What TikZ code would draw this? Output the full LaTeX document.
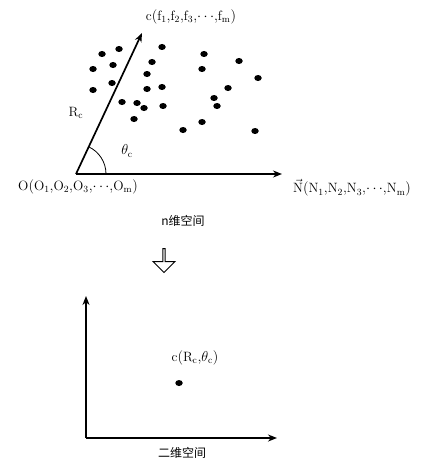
\documentclass[tikz,border=0pt]{standalone}
\usepackage{fontspec}
\newfontfamily\cjk{Noto Sans CJK SC}
\usetikzlibrary{arrows.meta,shapes.arrows,shapes.geometric}
\begin{document}
\begin{tikzpicture}[x=1pt,y=-1pt,
  axis/.style={line width=1.7pt,-{Stealth[length=9pt,width=7pt]}},
  dot/.style={fill=black,ellipse,inner sep=0pt,minimum width=7.5pt,minimum height=6pt},
  lbl/.style={inner sep=0pt,font=\fontsize{13.5}{15}\selectfont},
  cn/.style={inner sep=0pt,font=\cjk\fontsize{12}{14}\selectfont}]
\useasboundingbox (0,0) rectangle (420,460);
% n-dim space
\coordinate (O) at (76,174);
\coordinate (C) at (142,33);
\coordinate (N) at (282,174);
\draw[axis] (O) -- (C);
\draw[axis] (O) -- (N);
\draw[line width=0.8pt] ([xshift=30pt]O) arc[start angle=0,end angle=65,radius=30pt];
\node[lbl] (clabel) at (191,17) {$\mathrm{c(f_1{,}f_2{,}f_3{,}{\cdots}{,}f_m)}$};
\node[lbl] (Rc) at (76,113) {$\mathrm{R_c}$};
\node[lbl] (th) at (127,151) {$\theta_{\mathrm{c}}$};
\node[lbl] (Olabel) at (78,187) {$\mathrm{O(O_1{,}O_2{,}O_3{,}{\cdots}{,}O_m)}$};
\node[lbl] (Nlabel) at (352,188) {$\mathrm{\vec{N}(N_1{,}N_2{,}N_3{,}{\cdots}{,}N_m)}$};
\node[cn] (nspace) at (183,221) {n维空间};
\foreach \x/\y in {102/54,119/49,162/47,93/69,113/65,152/62,204/54,202/69,239/61,258/78,93/90,112/83,147/74,147/89,162/87,122/102,137/103,144/108,163/106,228/88,214/98,217/106,134/119,202/122,183/130,255/131}
  \node[dot] at (\x,\y) {};
% hollow arrow
\node[draw,line width=0.9pt,single arrow,shape border rotate=270,minimum width=22pt,single arrow head extend=4pt,single arrow head indent=0pt,minimum height=24pt,inner sep=0pt] (down) at (164,260) {};
% 2D space
\coordinate (P) at (86,438);
\coordinate (Y) at (86,296);
\coordinate (X) at (277,438);
\draw[axis] (P) -- (Y);
\draw[axis] (P) -- (X);
\node[lbl] (c2) at (195,358) {$\mathrm{c(R_c{,}\theta_c)}$};
\node[dot] (cdot) at (179,383) {};
\node[cn] (twod) at (182,453) {二维空间};
\end{tikzpicture}
\end{document}
